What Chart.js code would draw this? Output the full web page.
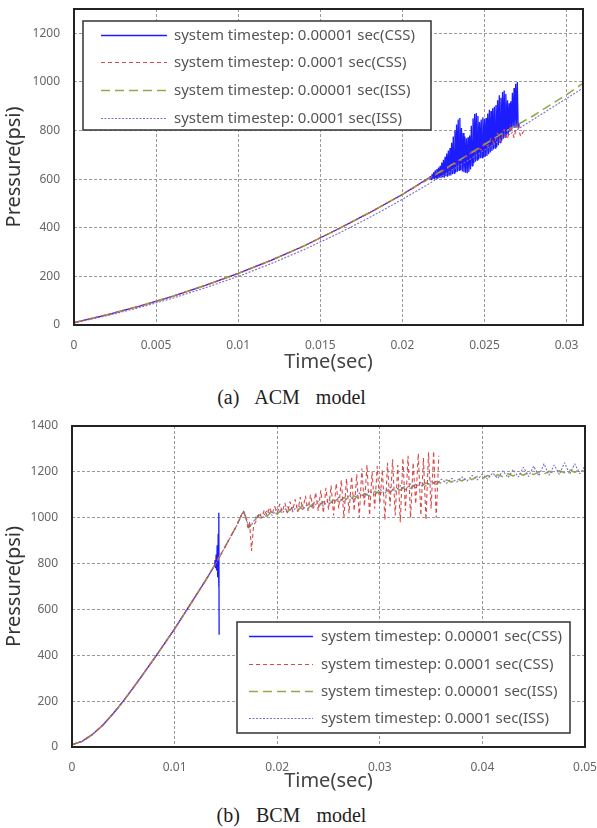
<!DOCTYPE html>
<html>
<head>
<meta charset="utf-8">
<script src="https://cdn.jsdelivr.net/npm/chart.js@4.4.1/dist/chart.umd.min.js"></script>
<style>
  body { margin: 0; background: #fff; width: 597px; height: 828px; position: relative; overflow: hidden; }
  .box { position: absolute; left: 0; width: 597px; }
  .cap { position: absolute; left: 0; width: 583px; text-align: center; font-family: "Liberation Serif", "DejaVu Serif", serif;
         font-size: 20px; line-height: 24px; word-spacing: 11px; color: #222; }
</style>
</head>
<body>
<div class="box" style="top:0;height:374px"><canvas id="acm" width="597" height="374"></canvas></div>
<div class="cap" style="top:385px">(a) ACM model</div>
<div class="box" style="top:405px;height:388px"><canvas id="bcm" width="597" height="388"></canvas></div>
<div class="cap" style="top:803px">(b) BCM model</div>
<script>
// legend labels
var LABELS = ['system timestep: 0.00001 sec(CSS)', 'system timestep: 0.0001 sec(CSS)',
              'system timestep: 0.00001 sec(ISS)', 'system timestep: 0.0001 sec(ISS)'];

// ---- (a) ACM model ----
var acmBaseT = [0, 0.002, 0.004, 0.006, 0.008, 0.010, 0.012, 0.014, 0.016, 0.018, 0.020];
var acmBaseP = [10, 42, 78, 118, 163, 212, 266, 325, 392, 462, 537];
// 0.00001 CSS: sampled every 0.00005 s from 0.0216 s
var acmBlueT0 = 0.0216, acmBlueDt = 0.00005;
var acmBlueP = [
  605, 600, 612, 598, 620, 602, 628, 600, 636, 604, 642, 602, 648, 606, 655, 605, 668, 608, 680, 606,
  692, 612, 705, 610, 718, 614, 728, 615, 750, 620, 775, 624, 800, 628, 825, 630, 845, 636, 852, 638,
  810, 632, 790, 628, 775, 626, 768, 624, 772, 630, 780, 640, 820, 655, 850, 665, 868, 672, 872, 678,
  860, 682, 835, 686, 845, 688, 855, 690, 848, 692, 852, 695, 870, 702, 885, 710, 880, 716, 892, 722,
  898, 728, 905, 732, 925, 740, 945, 750, 935, 758, 958, 765, 965, 772, 950, 778, 925, 785, 912, 795,
  920, 805, 955, 812, 975, 810, 992, 815, 1000, 812, 830
];
// 0.0001 CSS: every 0.0002 s from 0.022 s
var acmRedT0 = 0.022, acmRedDt = 0.0002;
var acmRedP = [618, 628, 630, 642, 646, 660, 662, 676, 678, 693, 694, 712, 708, 730, 720, 750, 735, 770,
               745, 790, 755, 805, 765, 820, 770, 830, 775, 800];
// 0.00001 ISS
var acmGreenT = [0.022, 0.024, 0.026, 0.028, 0.030, 0.031];
var acmGreenP = [618, 700, 785, 862, 948, 994];
// 0.0001 ISS
var acmPurpleT = [0, 0.002, 0.004, 0.006, 0.008, 0.010, 0.012, 0.014, 0.016, 0.018, 0.020, 0.022, 0.024, 0.026, 0.028, 0.030, 0.031];
var acmPurpleP = [8, 38, 72, 110, 153, 200, 252, 310, 373, 442, 517, 596, 677, 762, 847, 932, 975];

// ---- (b) BCM model ----
var bcmBaseT = [0, 0.001, 0.002, 0.003, 0.004, 0.005, 0.006, 0.007, 0.008, 0.009, 0.010, 0.011, 0.012, 0.013];
var bcmBaseP = [10, 25, 55, 95, 145, 200, 260, 322, 385, 450, 515, 585, 655, 725];
var bcmBlueT = [0.0135, 0.0138, 0.0139, 0.01395, 0.0140, 0.01405, 0.0141, 0.01415, 0.0142, 0.01425, 0.0143, 0.01432, 0.01434];
var bcmBlueP = [762, 784, 792, 815, 780, 840, 770, 880, 740, 930, 700, 1022, 490];
var bcmMidT = [0.014, 0.015, 0.016, 0.0167, 0.0170, 0.0172, 0.0175, 0.0178];
var bcmGreenMidP = [800, 880, 962, 1030, 995, 955, 972, 988];
var bcmPurpleMidP = [798, 878, 960, 1028, 998, 958, 968, 992];
var bcmRedMidT = [0.014, 0.015, 0.016, 0.0167, 0.0170, 0.0172, 0.0173, 0.0175, 0.0177];
var bcmRedMidP = [800, 880, 962, 1030, 990, 950, 985, 855, 965];
// 0.0001 CSS: every 0.00025 s from 0.018 s
var bcmRedT0 = 0.018, bcmRedDt = 0.00025;
var bcmRedP = [
  990, 1020, 1000, 1035, 1010, 1045, 1015, 1050, 1020, 1060, 1025, 1065, 1020, 1070, 1030, 1080,
  1025, 1090, 1035, 1095, 1030, 1100, 1040, 1110, 1030, 1120, 1020, 1130, 1035, 1140, 1010, 1150,
  1040, 1165, 1000, 1170, 1020, 1180, 1030, 1190, 1000, 1215, 1050, 1230, 1010, 1200, 1040, 1225,
  1060, 1210, 990, 1240, 1050, 1255, 1010, 1230, 980, 1260, 1030, 1270, 1000, 1240, 1060, 1280,
  1010, 1260, 990, 1285, 1040, 1290, 1000, 1270
];
// ISS runs: every 0.0005 s from 0.018 s to 0.05 s
var bcmTailT0 = 0.018, bcmTailDt = 0.0005;
var bcmGreenP = [
  1000, 1020, 1005, 1030, 1015, 1040, 1025, 1045, 1030, 1055, 1040, 1062, 1048, 1070, 1058, 1078,
  1065, 1088, 1075, 1095, 1085, 1105, 1095, 1115, 1105, 1122, 1112, 1130, 1120, 1138, 1128, 1145,
  1135, 1152, 1142, 1158, 1150, 1165, 1155, 1170, 1160, 1175, 1166, 1180, 1170, 1184, 1175, 1188,
  1178, 1192, 1182, 1195, 1185, 1198, 1188, 1200, 1190, 1203, 1193, 1205, 1196, 1208, 1198, 1210, 1200
];
var bcmPurpleP = [
  1010, 995, 1030, 1010, 1040, 1020, 1048, 1025, 1055, 1035, 1062, 1042, 1072, 1050, 1080, 1060,
  1090, 1068, 1098, 1078, 1108, 1088, 1118, 1098, 1125, 1105, 1133, 1115, 1140, 1122, 1148, 1130,
  1155, 1138, 1160, 1145, 1168, 1150, 1172, 1155, 1178, 1160, 1185, 1165, 1190, 1168, 1195, 1172,
  1205, 1175, 1210, 1178, 1220, 1180, 1225, 1182, 1235, 1185, 1230, 1188, 1240, 1190, 1235, 1192, 1225
];

function pts(ts, ps) {
  return ts.map(function (t, i) { return { x: t, y: ps[i] }; });
}
function sampled(t0, dt, ps) {
  return ps.map(function (p, i) { return { x: t0 + i * dt, y: p }; });
}

// blue drawn underneath, the other runs over it
var STYLES = [
  { borderColor: '#1c1cff', borderWidth: 1.3, borderDash: [], order: 4 },
  { borderColor: '#d84848', borderWidth: 1.1, borderDash: [4, 3], order: 1 },
  { borderColor: '#8fac48', borderWidth: 1.6, borderDash: [9, 5], order: 3 },
  { borderColor: '#7d6ccc', borderWidth: 1.1, borderDash: [2, 1.5], order: 2 }
];

function makeSets(series) {
  return series.map(function (data, i) {
    return Object.assign({
      label: LABELS[i], data: data, pointRadius: 0, fill: false,
      tension: 0, borderJoinStyle: 'bevel'
    }, STYLES[i]);
  });
}

// frame around the plot + boxed legend inside the plot
var frameLegend = {
  id: 'frameLegend',
  afterDraw: function (chart, args, o) {
    var ctx = chart.ctx, a = chart.chartArea;
    ctx.save();
    ctx.strokeStyle = '#222';
    ctx.lineWidth = 2;
    ctx.strokeRect(a.left, a.top, a.right - a.left, a.bottom - a.top);

    var b = o.box;
    ctx.fillStyle = '#fff';
    ctx.fillRect(b.left, b.top, b.width, b.height);
    ctx.lineWidth = 1.5;
    ctx.strokeStyle = '#333';
    ctx.strokeRect(b.left, b.top, b.width, b.height);
    ctx.font = '15px "Noto Sans"';
    ctx.textBaseline = 'middle';
    LABELS.forEach(function (label, i) {
      var st = STYLES[i];
      var y = Math.round(b.top + o.firstRow + i * o.rowGap);
      ctx.beginPath();
      ctx.setLineDash(st.borderDash);
      ctx.strokeStyle = st.borderColor;
      ctx.lineWidth = Math.max(1.2, st.borderWidth);
      ctx.moveTo(b.left + o.sampleX, y + 0.5);
      ctx.lineTo(b.left + o.sampleX + o.sampleLen, y + 0.5);
      ctx.stroke();
      ctx.setLineDash([]);
      ctx.fillStyle = '#555';
      ctx.fillText(label, b.left + o.textX, y + 1);
    });
    ctx.restore();
  }
};

Chart.defaults.font.family = '"Noto Sans", "DejaVu Sans", sans-serif';

function makeChart(id, datasets, c) {
  return new Chart(document.getElementById(id), {
    type: 'line',
    data: { datasets: datasets },
    plugins: [frameLegend],
    options: {
      responsive: false,
      animation: false,
      devicePixelRatio: 1,
      layout: { padding: c.pad },
      plugins: {
        legend: { display: false },
        tooltip: { enabled: false },
        frameLegend: c.legend
      },
      scales: {
        x: {
          type: 'linear', min: 0, max: c.xMax,
          afterFit: function (s) { s.height = c.xHeight; s.paddingLeft = 0; s.paddingRight = 0; },
          grid: { color: '#9a9a9a', lineWidth: 1, drawTicks: false },
          border: { display: false, dash: [3, 2] },
          ticks: {
            stepSize: c.xStep, includeBounds: false, autoSkip: false, maxRotation: 0, padding: 13,
            color: '#666', font: { size: 12 },
            callback: function (v) {
              var k = v / c.xStep;
              return Math.abs(k - Math.round(k)) < 1e-6 ? String(+v.toFixed(3)) : '';
            }
          },
          title: { display: true, text: 'Time(sec)', color: '#444', font: { size: 20 }, padding: { top: 0, bottom: 0 } }
        },
        y: {
          min: 0, max: c.yMax,
          afterFit: function (s) { s.width = c.yWidth; s.paddingTop = 0; s.paddingBottom = 0; },
          grid: { color: '#9a9a9a', lineWidth: 1, drawTicks: false },
          border: { display: false, dash: [3, 2] },
          ticks: {
            stepSize: 200, includeBounds: false, padding: 14, color: '#666', font: { size: 12 },
            callback: function (v) { return v % 200 === 0 ? v : ''; }
          },
          title: { display: true, text: 'Pressure(psi)', color: '#333', font: { size: 20 }, padding: { top: 2, bottom: 0 } }
        }
      }
    }
  });
}

makeChart('acm', makeSets([
  pts(acmBaseT, acmBaseP).concat(sampled(acmBlueT0, acmBlueDt, acmBlueP)),
  pts(acmBaseT, acmBaseP).concat(sampled(acmRedT0, acmRedDt, acmRedP)),
  pts(acmBaseT, acmBaseP).concat(pts(acmGreenT, acmGreenP)),
  pts(acmPurpleT, acmPurpleP)
]), {
  xMax: 0.031, xStep: 0.005, yMax: 1300,
  pad: { top: 9, right: 14, left: 0, bottom: 0 }, yWidth: 74, xHeight: 49,
  legend: { box: { left: 83, top: 21, width: 348, height: 109 }, firstRow: 13.5, rowGap: 27.7, sampleX: 18, sampleLen: 66, textX: 91 }
});

makeChart('bcm', makeSets([
  pts(bcmBaseT, bcmBaseP).concat(pts(bcmBlueT, bcmBlueP)),
  pts(bcmBaseT, bcmBaseP).concat(pts(bcmRedMidT, bcmRedMidP), sampled(bcmRedT0, bcmRedDt, bcmRedP)),
  pts(bcmBaseT, bcmBaseP).concat(pts(bcmMidT, bcmGreenMidP), sampled(bcmTailT0, bcmTailDt, bcmGreenP)),
  pts(bcmBaseT, bcmBaseP).concat(pts(bcmMidT, bcmPurpleMidP), sampled(bcmTailT0, bcmTailDt, bcmPurpleP))
]), {
  xMax: 0.05, xStep: 0.01, yMax: 1400,
  pad: { top: 21, right: 12, left: 0, bottom: 0 }, yWidth: 72, xHeight: 46,
  legend: { box: { left: 237, top: 217, width: 333, height: 111 }, firstRow: 14.3, rowGap: 27.2, sampleX: 12, sampleLen: 64, textX: 84 }
});
</script>
</body>
</html>
